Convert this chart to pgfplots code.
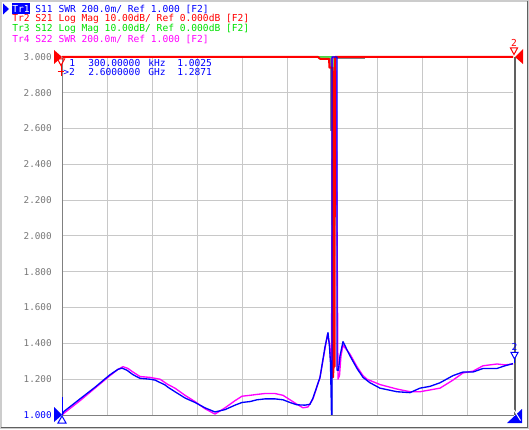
\documentclass[border=0pt]{standalone}
\usepackage{pgfplots}
\pgfplotsset{compat=1.18}
\usepackage{fontspec}
\newfontfamily\monof{DejaVu Sans Mono}
\newcommand\hdr{\monof\fontsize{7.2}{8}\selectfont}
\newcommand\tickf{\monof\fontsize{7}{8}\selectfont}
\definecolor{trBlue}{RGB}{0,0,255}
\definecolor{trRed}{RGB}{255,0,0}
\definecolor{trGreen}{RGB}{0,224,0}
\definecolor{trMag}{RGB}{255,0,255}
\definecolor{gridgray}{RGB}{200,200,200}
\definecolor{labgray}{RGB}{120,120,120}
\definecolor{framegray}{RGB}{128,128,128}
\definecolor{darkframe}{RGB}{96,96,96}

\begin{document}
\begin{tikzpicture}[x=0.75pt,y=0.75pt]
% picture is laid out in screen pixels, y counted from the bottom
\useasboundingbox (0,0) rectangle (529,429);
\fill[white] (0,0) rectangle (529,429);
\draw[gray!40, line width=1.5pt] (1,1) rectangle (528,428);
\draw[darkframe, line width=0.75pt] (1.5,2) -- (527,2) -- (527,428);

% trace header
\fill[trBlue] (3,425.5) -- (9,420) -- (3,414.5) -- cycle;
\fill[trBlue] (11.5,414.5) rectangle (30,425.5);
\node[anchor=west, inner sep=0pt, font=\hdr, text=trBlue] at (12,420)
  {\textcolor{white}{Tr1} S11 SWR 200.0m/ Ref 1.000 [F2]};
\node[anchor=west, inner sep=0pt, font=\hdr, text=trRed] at (12,410)
  {Tr2 S21 Log Mag 10.00dB/ Ref 0.000dB [F2]};
\node[anchor=west, inner sep=0pt, font=\hdr, text=trGreen] at (12,400)
  {Tr3 S12 Log Mag 10.00dB/ Ref 0.000dB [F2]};
\node[anchor=west, inner sep=0pt, font=\hdr, text=trMag] at (12,390)
  {Tr4 S22 SWR 200.0m/ Ref 1.000 [F2]};

\begin{axis}[
    at={(46.5pt,10.5pt)}, anchor=south west,
    scale only axis,
    width=338.25pt, height=268.5pt,
    xmin=0.3, xmax=2600,
    ymin=1, ymax=3,
    clip=false,
    axis line style={draw=none},
    xtick={260.27,520.24,780.21,1040.18,1300.15,1560.12,1820.09,2080.06,2340.03},
    xticklabels={},
    ytick={1,1.2,1.4,1.6,1.8,2,2.2,2.4,2.6,2.8,3},
    yticklabels={\textcolor{trBlue}{1.000},1.200,1.400,1.600,1.800,2.000,2.200,2.400,2.600,2.800,3.000},
    yticklabel style={font=\tickf, text=labgray, inner sep=0pt, xshift=-7.5pt},
    major tick length=0pt,
    grid=major,
    major grid style={gridgray, line width=0.75pt},
    every axis plot/.append style={line width=1pt, line join=round, mark=none},
  ]

  % Tr3 S12
  \addplot[trGreen] coordinates {
    (0.3,3)(1568.2,3)(1571.1,1.89)(1574.0,3)(2600,3)
  };

  % memory trace
  \addplot[framegray, line width=0.75pt] coordinates {
    (1499.0,2.992)(1550.5,2.992)(1550.5,2.59)(1552.5,2.59)(1552.5,2.992)(1746.9,2.992)
  };

  % Tr4 S22
  \addplot[trMag] coordinates {
    (0.3,1.0)(11.8,1.01)(104.1,1.08)(190.5,1.15)(277.0,1.22)(323.1,1.255)
    (351.9,1.27)(380.7,1.26)(409.6,1.24)(449.9,1.215)(507.6,1.21)(565.2,1.20)
    (611.3,1.17)(651.7,1.15)(709.3,1.11)(767.0,1.075)(824.6,1.035)(882.2,1.005)
    (939.9,1.04)(997.5,1.08)(1037.9,1.105)(1084.0,1.11)(1124.3,1.115)(1170.5,1.12)
    (1228.1,1.12)(1274.2,1.11)(1314.6,1.085)(1354.9,1.06)(1389.5,1.04)(1418.3,1.045)
    (1447.1,1.09)(1487.5,1.21)(1516.3,1.37)(1530.7,1.45)(1542.3,1.40)(1548.0,1.31)
    (1553.8,1.29)(1559.5,3.0)(1579.7,3.0)(1591.2,1.20)(1599.9,1.22)(1608.5,1.33)
    (1620.1,1.39)(1660.4,1.34)(1700.8,1.27)(1735.4,1.22)(1758.4,1.20)(1833.3,1.17)
    (1931.3,1.145)(2006.3,1.13)(2063.9,1.13)(2121.6,1.14)(2179.2,1.15)(2254.1,1.195)
    (2311.8,1.235)(2369.4,1.245)(2427.1,1.275)(2507.8,1.285)(2553.9,1.28)(2600,1.285)
  };

  % Tr2 S21
  \addplot[trRed, line width=1.5pt] coordinates {
    (0.3,3)(1476.0,3)(1487.5,2.99)(1539.4,2.99)(1542.3,2.94)(1559.5,2.94)
    (1562.4,1.21)(1565.3,1.26)(1568.2,2.6)(1571.1,1.27)(1574.0,3)(2600,3)
  };

  % Tr1 S11
  \addplot[trBlue] coordinates {
    (0.3,1.0025)(11.8,1.02)(104.1,1.09)(190.5,1.155)(277.0,1.225)(323.1,1.255)
    (346.2,1.262)(375.0,1.25)(409.6,1.225)(449.9,1.205)(507.6,1.20)(536.4,1.195)
    (594.0,1.168)(611.3,1.155)(651.7,1.13)(709.3,1.095)(767.0,1.07)(824.6,1.04)
    (882.2,1.017)(939.9,1.03)(997.5,1.055)(1037.9,1.07)(1084.0,1.075)(1124.3,1.085)
    (1170.5,1.09)(1228.1,1.09)(1274.2,1.085)(1314.6,1.07)(1354.9,1.057)(1401.0,1.055)
    (1429.9,1.06)(1447.1,1.095)(1487.5,1.21)(1516.3,1.38)(1533.6,1.46)(1542.3,1.38)
    (1548.0,1.29)(1553.8,1.0)(1556.7,1.0)(1556.7,3.0)(1585.5,3.0)(1585.5,1.25)
    (1594.1,1.25)(1602.8,1.33)(1620.1,1.41)(1660.4,1.33)(1700.8,1.26)(1735.4,1.21)
    (1775.7,1.18)(1833.3,1.15)(1931.3,1.13)(2006.3,1.125)(2063.9,1.15)(2121.6,1.16)
    (2179.2,1.18)(2254.1,1.22)(2311.8,1.24)(2369.4,1.24)(2427.1,1.26)(2507.8,1.26)
    (2553.9,1.275)(2600,1.2871)
  };
\end{axis}

% graticule frame
\draw[framegray, line width=0.75pt] (62,372) -- (62,14) -- (514,14);
\draw[darkframe, line width=1.5pt] (514.5,14) -- (514.5,372);

% marker readout
\node[anchor=west, inner sep=0pt, font=\hdr, text=trBlue] at (69,366) {1};
\node[anchor=west, inner sep=0pt, font=\hdr, text=trBlue] at (88,366) {300.00000};
\node[anchor=west, inner sep=0pt, font=\hdr, text=trBlue] at (148,366) {kHz};
\node[anchor=west, inner sep=0pt, font=\hdr, text=trBlue] at (177,366) {1.0025};
\node[anchor=west, inner sep=0pt, font=\hdr, text=trBlue] at (63,357) {>2};
\node[anchor=west, inner sep=0pt, font=\hdr, text=trBlue] at (88,357) {2.6000000};
\node[anchor=west, inner sep=0pt, font=\hdr, text=trBlue] at (148,357) {GHz};
\node[anchor=west, inner sep=0pt, font=\hdr, text=trBlue] at (177,357) {1.2871};

% red trace: reference arrows and markers
\fill[trRed] (54,379) -- (54,365) -- (62,372) -- cycle;
\draw[trRed, line width=0.75pt] (57.5,370) -- (64.5,370) -- (61,363.5) -- cycle;
\draw[trRed, line width=0.75pt] (61,363.5) -- (61,353) (57.5,357) -- (64,357);
\node[inner sep=0pt, font=\hdr, text=trRed] at (514,386) {2};
\draw[trRed, line width=0.75pt, fill=white] (510.5,381) -- (517.5,381) -- (514,374.5) -- cycle;
\fill[trRed] (523,380) -- (523,365) -- (515,372) -- cycle;

% blue trace: reference arrows and markers
\fill[trBlue] (54,22) -- (54,7) -- (62,14) -- cycle;
\draw[trBlue, line width=0.75pt] (62,14) -- (62,32);
\draw[trBlue, line width=0.75pt, fill=white] (58,6) -- (66,6) -- (62,13) -- cycle;
\node[inner sep=0pt, font=\hdr, text=trBlue] at (514.5,82) {2};
\draw[trBlue, line width=0.75pt, fill=white] (511,76.5) -- (518,76.5) -- (514.5,70) -- cycle;
\draw[trBlue, line width=0.75pt] (514.5,70) -- (514.5,66);
\fill[trBlue] (507,6) -- (522,6) -- (522,20) -- cycle;
\draw[white, line width=0.75pt] (514,19) -- (520.5,8.5);
\end{tikzpicture}
\end{document}
